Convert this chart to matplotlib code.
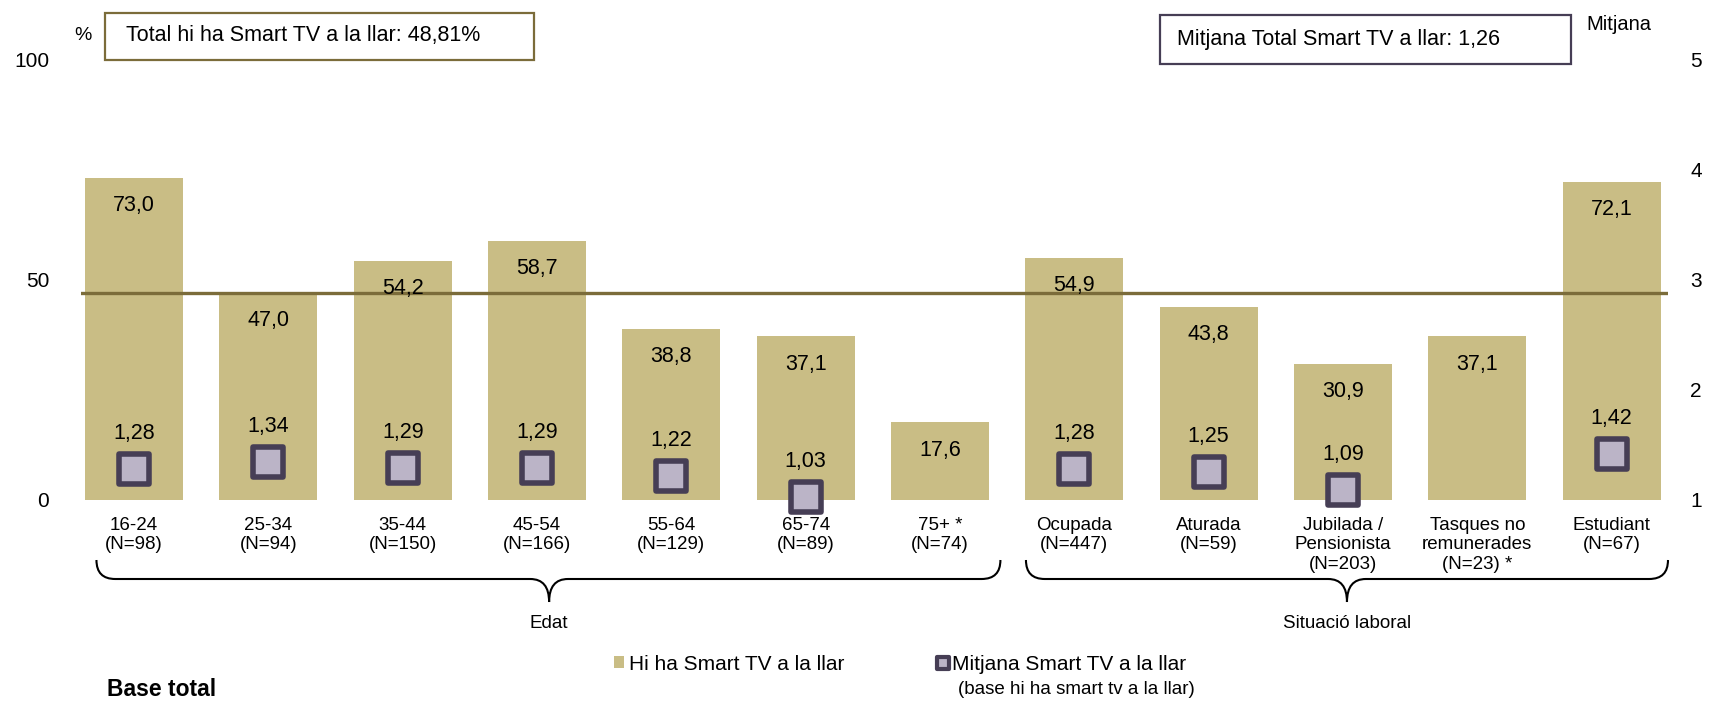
import matplotlib
matplotlib.use('Agg')
import numpy as np
import matplotlib.pyplot as plt
from matplotlib.patches import Rectangle, PathPatch
from matplotlib.path import Path
from matplotlib.lines import Line2D
from matplotlib.markers import MarkerStyle
from matplotlib.transforms import blended_transform_factory

plt.rcParams['font.family'] = ['Liberation Sans', 'DejaVu Sans']

# Categories and values
categories = ['16-24\n(N=98)', '25-34\n(N=94)', '35-44\n(N=150)', '45-54\n(N=166)',
              '55-64\n(N=129)', '65-74\n(N=89)', '75+ *\n(N=74)',
              'Ocupada\n(N=447)', 'Aturada\n(N=59)', 'Jubilada /\nPensionista\n(N=203)',
              'Tasques no\nremunerades\n(N=23) *', 'Estudiant\n(N=67)']
pct_smart_tv = [73.0, 47.0, 54.2, 58.7, 38.8, 37.1, 17.6, 54.9, 43.8, 30.9, 37.1, 72.1]
mean_smart_tv = [1.28, 1.34, 1.29, 1.29, 1.22, 1.03, np.nan, 1.28, 1.25, 1.09, np.nan, 1.42]
total_pct = 48.81
total_mean = 1.26
total_line_level = 47.0   # where the reference line is drawn
groups = [('Edat', -0.28, 6.45, 3.09), ('Situació laboral', 6.64, 11.42, 9.03)]

bar_color = '#c9bd85'
line_color = '#7b6c3a'
mk_edge = '#463e55'
mk_fill = '#bbb4c7'

W, H = 1720, 704
fig = plt.figure(figsize=(W / 100, H / 100), dpi=100)
ax = fig.add_axes([81 / W, 0.290, (1668 - 81) / W, 0.916 - 0.290])

x = np.arange(len(categories))
bars = ax.bar(x, pct_smart_tv, width=0.73, color=bar_color, zorder=1)
ax.axhline(total_line_level, color=line_color, lw=2.4, zorder=2)

for xi, v in zip(x, pct_smart_tv):
    ax.annotate(f'{v:.1f}'.replace('.', ','), (xi, v), xytext=(0, -24),
                textcoords='offset points', ha='center', va='baseline', fontsize=15.5)

ax.set_xlim(-0.395, 11.42)
ax.set_ylim(0, 100)
ax.set_yticks([0, 50, 100])
ax.set_xticks(x)
ax.set_xticklabels(categories, fontsize=13.5, linespacing=1.2)
ax.tick_params(axis='y', length=0, pad=23, labelsize=15)
ax.tick_params(axis='x', length=0, pad=12)
for s in ax.spines.values():
    s.set_visible(False)

# Secondary axis for the means
ax2 = ax.twinx()
square = MarkerStyle('s', joinstyle='round')
ax2.plot(x, mean_smart_tv, linestyle='none', marker=square, markersize=21.5,
         markerfacecolor=mk_fill, markeredgecolor=mk_edge, markeredgewidth=4, zorder=3,
         clip_on=False)
for xi, m in zip(x, mean_smart_tv):
    if not np.isnan(m):
        ax2.annotate(f'{m:.2f}'.replace('.', ','), (xi, m), xytext=(0, 21.6),
                     textcoords='offset points', ha='center', va='baseline', fontsize=15.5)
ax2.set_ylim(1, 5)
ax2.set_yticks([1, 2, 3, 4, 5])
ax2.tick_params(axis='y', length=0, pad=16, labelsize=15)
for s in ax2.spines.values():
    s.set_visible(False)

# Axis captions
fig.text(83 / W, 1 - 35 / H, '%', ha='center', va='center', fontsize=14)
fig.text(1619 / W, 1 - 24 / H, 'Mitjana', ha='center', va='center', fontsize=14.5)

# Total boxes
fig.patches.append(Rectangle((105 / W, 1 - 60 / H), (534 - 105) / W, 47 / H, transform=fig.transFigure,
                             fill=False, edgecolor=line_color, lw=1.6))
fig.text(126 / W, 1 - 36 / H, f'Total hi ha Smart TV a la llar: {total_pct:.2f}%'.replace('.', ','),
         va='center', fontsize=15.5)
fig.patches.append(Rectangle((1160 / W, 1 - 64 / H), (1571 - 1160) / W, 49 / H, transform=fig.transFigure,
                             fill=False, edgecolor=mk_edge, lw=1.6))
fig.text(1177 / W, 1 - 39 / H, f'Mitjana Total Smart TV a llar: {total_mean:.2f}'.replace('.', ','),
         va='center', fontsize=15.5)

# Braces under the groups
trans = blended_transform_factory(ax.transData, fig.transFigure)
y_top, y_mid, y_tip = 1 - 560 / H, 1 - 579 / H, 1 - 602 / H
r = 0.14
for name, x0, x1, xt in groups:
    verts = [(x0, y_top), (x0, y_mid), (x0 + r, y_mid),
             (xt - r, y_mid), (xt, y_mid), (xt, y_tip),
             (xt, y_mid), (xt + r, y_mid),
             (x1 - r, y_mid), (x1, y_mid), (x1, y_top)]
    codes = [Path.MOVETO, Path.CURVE3, Path.CURVE3,
             Path.LINETO, Path.CURVE3, Path.CURVE3,
             Path.CURVE3, Path.CURVE3,
             Path.LINETO, Path.CURVE3, Path.CURVE3]
    fig.patches.append(PathPatch(Path(verts, codes), transform=trans, fill=False,
                                 edgecolor='black', lw=1.5))
    fig.text(xt, 1 - 623 / H, name, transform=trans, ha='center', va='center', fontsize=13.5)

# Legend
mean_handle = Line2D([], [], linestyle='none', marker=MarkerStyle('s', joinstyle='round'), markersize=9,
                     markerfacecolor=mk_fill, markeredgecolor=mk_edge, markeredgewidth=3)
fig.legend([bars, mean_handle], ['Hi ha Smart TV a la llar', 'Mitjana Smart TV a la llar'],
           loc='center left', bbox_to_anchor=(614 / W, 1 - 664 / H), ncol=2, frameon=False,
           fontsize=15, handlelength=0.5, handleheight=0.5, handletextpad=0.2,
           columnspacing=4.5, borderpad=0, borderaxespad=0)
fig.text(1076 / W, 1 - 690 / H, '(base hi ha smart tv a la llar)', ha='center', va='center', fontsize=13.5)

fig.text(107 / W, 1 - 689 / H, 'Base total', fontweight='bold', va='center', fontsize=16.5)

fig.savefig('out.png', dpi=100)
